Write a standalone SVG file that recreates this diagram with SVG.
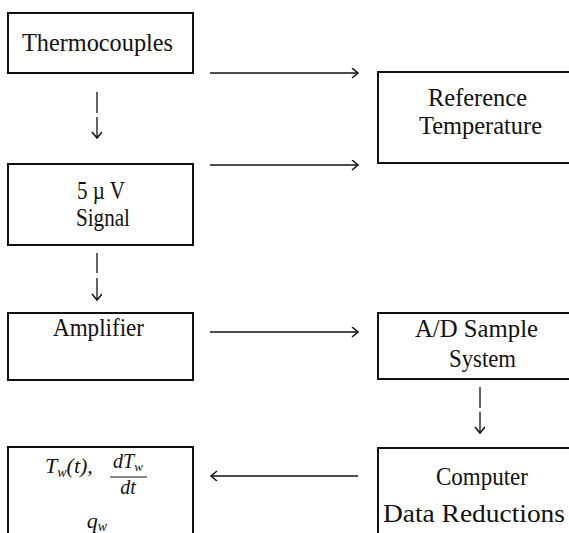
<svg xmlns="http://www.w3.org/2000/svg" width="569" height="533" viewBox="0 0 569 533">
<style>
.box{fill:none;stroke:#111;stroke-width:2}
.t{font-family:"Liberation Serif","Times New Roman",serif;font-size:26px;fill:#111;text-anchor:start}
.s{font-size:25px}
.i{font-style:italic}
.c{stroke:#111;stroke-width:1.3;fill:none}
</style>
<defs>
<marker id="ah" markerUnits="userSpaceOnUse" markerWidth="10" markerHeight="12" refX="7" refY="5" orient="auto">
<path d="M1,0 L7,5 L1,10" fill="none" stroke="#111" stroke-width="1.5"/>
</marker>
</defs>
<rect width="569" height="533" fill="#fff"/>
<g id="connectors">
<line class="c" x1="210" y1="73" x2="358" y2="73" marker-end="url(#ah)"/>
<line class="c" x1="210" y1="165" x2="358" y2="165" marker-end="url(#ah)"/>
<line class="c" x1="210" y1="332" x2="358" y2="332" marker-end="url(#ah)"/>
<line class="c" x1="358" y1="476" x2="211" y2="476" marker-end="url(#ah)"/>
<line class="c" x1="97" y1="92" x2="97" y2="113"/>
<line class="c" x1="97" y1="117" x2="97" y2="138" marker-end="url(#ah)"/>
<line class="c" x1="97" y1="253" x2="97" y2="273"/>
<line class="c" x1="97" y1="278" x2="97" y2="300" marker-end="url(#ah)"/>
<line class="c" x1="480" y1="387" x2="480" y2="408"/>
<line class="c" x1="480" y1="412" x2="480" y2="433" marker-end="url(#ah)"/>
</g>
<g id="thermocouples">
<rect class="box" x="8" y="13" width="185" height="60"/>
<text class="t" x="22" y="51" textLength="151" lengthAdjust="spacingAndGlyphs">Thermocouples</text>
</g>
<g id="reference">
<rect class="box" x="378" y="72" width="200" height="91"/>
<text class="t s" x="428" y="106" textLength="99" lengthAdjust="spacingAndGlyphs">Reference</text>
<text class="t s" x="419" y="134" textLength="123" lengthAdjust="spacingAndGlyphs">Temperature</text>
</g>
<g id="signal">
<rect class="box" x="8" y="164" width="185" height="81"/>
<text class="t s" x="77" y="199" textLength="48" lengthAdjust="spacingAndGlyphs">5 µ V</text>
<text class="t s" x="76" y="226" textLength="54" lengthAdjust="spacingAndGlyphs">Signal</text>
</g>
<g id="amplifier">
<rect class="box" x="8" y="313" width="185" height="67"/>
<text class="t" x="53" y="336" textLength="91" lengthAdjust="spacingAndGlyphs">Amplifier</text>
</g>
<g id="adsample">
<rect class="box" x="378" y="313" width="200" height="66"/>
<text class="t" x="415" y="337" textLength="123" lengthAdjust="spacingAndGlyphs">A/D Sample</text>
<text class="t" x="449" y="367" textLength="67" lengthAdjust="spacingAndGlyphs">System</text>
</g>
<g id="computer">
<rect class="box" x="378" y="448" width="200" height="95"/>
<text class="t" x="436" y="485" textLength="92" lengthAdjust="spacingAndGlyphs">Computer</text>
<text class="t" x="383" y="522" textLength="182" lengthAdjust="spacingAndGlyphs">Data Reductions</text>
</g>
<g id="result">
<rect class="box" x="8" y="447" width="185" height="95"/>
<text class="t i" x="45" y="473" style="font-size:22px">T<tspan font-size="14" dy="4">w</tspan><tspan dy="-4">(t),</tspan></text>
<text class="t i" x="128" y="468" style="font-size:20px;text-anchor:middle">dT<tspan font-size="13" dy="3">w</tspan></text>
<line x1="110" y1="477" x2="147" y2="477" stroke="#111" stroke-width="1.2"/>
<text class="t i" x="128" y="494" style="font-size:20px;text-anchor:middle">dt</text>
<text class="t i" x="97" y="528" style="font-size:22px;text-anchor:middle">q<tspan font-size="14" dy="3">w</tspan></text>
</g>
</svg>
